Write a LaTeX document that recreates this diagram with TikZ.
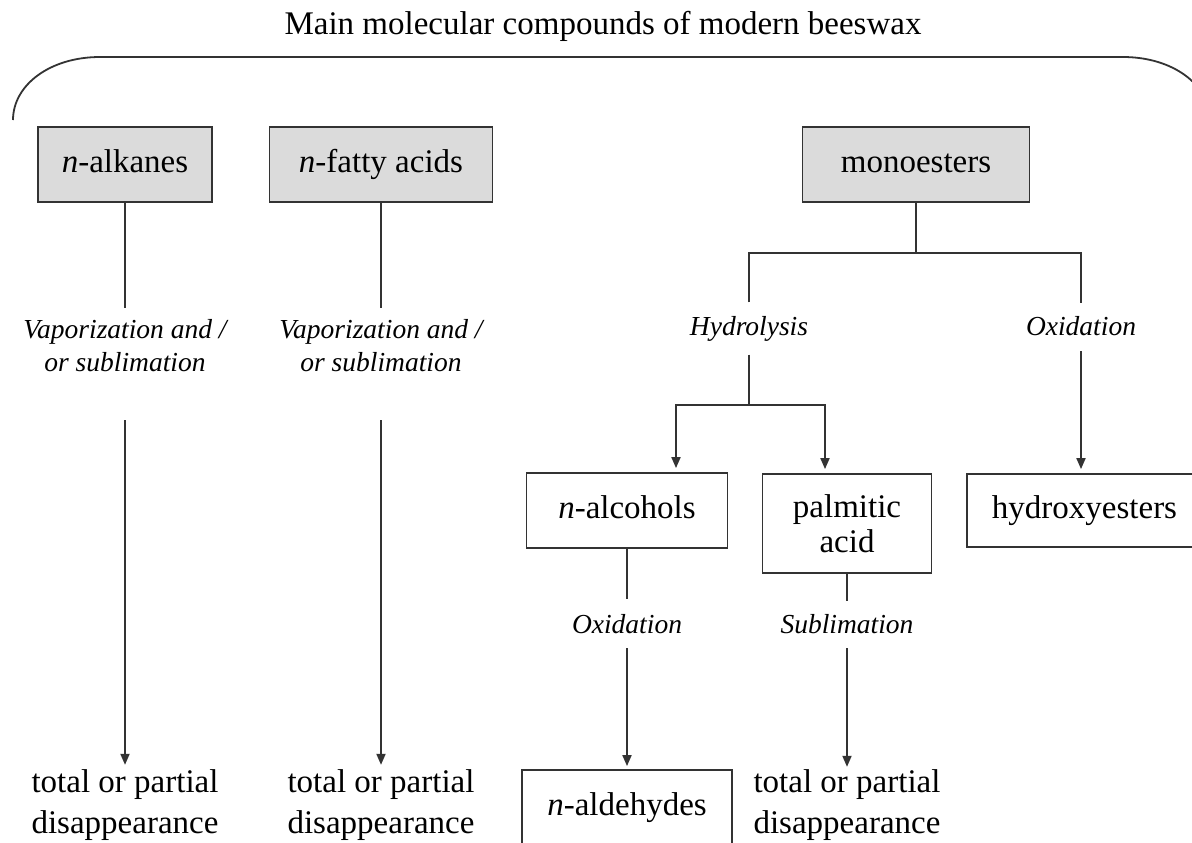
\documentclass[tikz,border=0pt]{standalone}
\usepackage{fontspec}
\setmainfont{Liberation Serif}
\usetikzlibrary{arrows.meta,calc}
\begin{document}
\begin{tikzpicture}[x=1pt,y=-1pt,
  ln/.style={draw=black!80, line width=1.8pt},
  arr/.style={ln, -{Triangle[length=11pt,width=9pt]}},
  dbl/.style={ln, {Triangle[length=11pt,width=9pt]}-{Triangle[length=11pt,width=9pt]}},
  gbox/.style={draw=black!80, line width=1.8pt, fill=black!14, inner sep=0pt, minimum height=75pt, text height=23pt, text depth=7pt, font=\fontsize{33}{40}\selectfont},
  wbox/.style={draw=black!80, line width=1.8pt, fill=white, inner sep=0pt, minimum height=75pt, font=\fontsize{33}{35}\selectfont, align=center},
  one/.style={text height=23pt, text depth=7pt},
  lab/.style={inner sep=0pt, font=\fontsize{27.5}{33}\selectfont\itshape, align=center},
  res/.style={inner sep=0pt, font=\fontsize{33}{41}\selectfont, align=center},
]
\useasboundingbox (0,0) rectangle (1192,843);
\clip (0,0) rectangle (1192,843);
\fill[white] (0,0) rectangle (1192,843);

% title and brace
\node[font=\fontsize{33}{40}\selectfont, anchor=base, inner sep=0pt] (title) at (603,35) {Main molecular compounds of modern beeswax};
\draw[ln] (13,120) .. controls (13,85) and (50,57) .. (100,57) -- (1123,57) .. controls (1173,57) and (1210,85) .. (1210,120);

% boxes
\node[gbox, minimum width=174pt] (alk) at (125,164.5) {\textit{n}-alkanes};
\node[gbox, minimum width=223pt] (fat) at (381,164.5) {\textit{n}-fatty acids};
\node[gbox, minimum width=227pt] (mono) at (916,164.5) {monoesters};
\node[wbox, one, minimum width=201pt] (alc) at (627,510.5) {\textit{n}-alcohols};
\node[wbox, minimum width=169pt, minimum height=99pt] (pal) at (847,523.5) {palmitic\\acid};
\node[wbox, one, minimum width=235pt, minimum height=73pt] (hyd) at (1084.5,510.5) {hydroxyesters};
\node[wbox, one, minimum width=210pt] (ald) at (627,807.5) {\textit{n}-aldehydes};

% process labels
\node[lab] (v1) at (125,346) {Vaporization and /\\or sublimation};
\node[lab] (v2) at (381,346) {Vaporization and /\\or sublimation};
\node[lab] (hy) at (749,329) {Hydrolysis};
\node[lab] (ox1) at (1081,326.5) {Oxidation};
\node[lab] (ox2) at (627,624.5) {Oxidation};
\node[lab] (sub) at (847,624.5) {Sublimation};

% results
\node[res] (r1) at (125,805.5) {total or partial\\disappearance};
\node[res] (r2) at (381,805.5) {total or partial\\disappearance};
\node[res] (r3) at (847,805.5) {total or partial\\disappearance};

% helper coordinates
\coordinate (bar) at (0,253);
\coordinate (sl) at (676,405);
\coordinate (sr) at (825,405);

% connectors
\draw[ln, shorten >=12pt] (alk.south) -- (v1.north);
\draw[arr, shorten <=48pt, shorten >=5pt] (v1.south) -- (r1.north);
\draw[ln, shorten >=12pt] (fat.south) -- (v2.north);
\draw[arr, shorten <=48pt, shorten >=5pt] (v2.south) -- (r2.north);

\draw[ln] (mono.south) -- (mono.south |- bar);
\draw[ln] ($(hy.north)+(0,-14)$) -- (hy.north |- bar) -- (ox1.north |- bar) -- ($(ox1.north)+(0,-14)$);
\draw[ln, shorten <=13pt] (hy.south) -- (hy.south |- sl);
\draw[dbl, shorten <=4pt, shorten >=4pt] (sl |- alc.north) -- (sl) -- (sr) -- (sr |- pal.north);
\draw[arr, shorten <=15pt, shorten >=4pt] (ox1.south) -- (ox1.south |- hyd.north);

\draw[ln, shorten >=16pt] (alc.south) -- (ox2.north);
\draw[arr, shorten <=14pt, shorten >=3pt] (ox2.south) -- (ald.north);
\draw[ln, shorten >=14pt] (pal.south) -- (sub.north);
\draw[arr, shorten <=14pt, shorten >=3pt] (sub.south) -- (r3.north);
\end{tikzpicture}
\end{document}
